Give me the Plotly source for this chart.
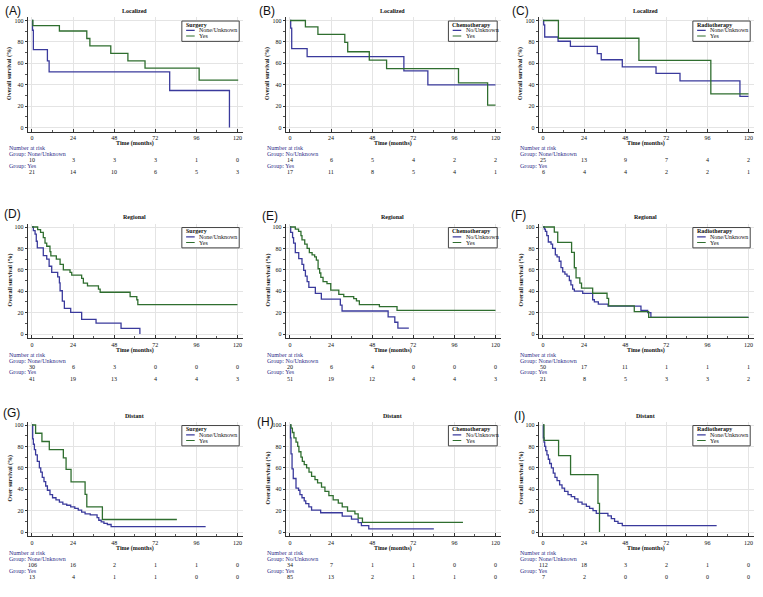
import plotly.graph_objects as go

# ---------------- data ----------------
months = [0, 24, 48, 72, 96, 120]

# (A) Localized - Surgery
a_none_t = [0, 0.3, 0.8, 9, 10, 80.4, 115.3]
a_none_s = [100, 90.9, 72.7, 62.3, 51.9, 34.6, 0]
a_yes_t = [0, 0.5, 16, 32, 33.8, 46, 56, 66, 97.6, 120.4]
a_yes_s = [100, 95.2, 90.2, 83.2, 76.2, 69.2, 62.3, 55.4, 44.3, 44.3]
a_risk_none = [10, 3, 3, 3, 1, 0]
a_risk_yes = [21, 14, 10, 6, 5, 3]

# (B) Localized - Chemotherapy
b_none_t = [0, 0.4, 1, 10, 66.5, 80.5, 120]
b_none_s = [100, 92.9, 73.7, 66.3, 53, 39.8, 39.8]
b_yes_t = [0, 9, 16.3, 32, 33.7, 46.3, 56.4, 98.4, 115.4, 120]
b_yes_s = [100, 94.1, 87.1, 79.6, 70.8, 63, 55.1, 41.7, 21, 21]
b_risk_none = [14, 6, 5, 4, 2, 2]
b_risk_yes = [17, 11, 8, 5, 4, 1]

# (C) Localized - Radiotherapy
c_none_t = [0, 0.4, 1, 8.8, 16, 31.7, 34, 46.3, 66, 80, 115, 120]
c_none_s = [100, 96, 84.6, 80.6, 75.9, 69, 63.3, 56.7, 50.5, 43.6, 29, 29]
c_yes_t = [0, 9, 56, 98, 120]
c_yes_s = [100, 83.4, 62.7, 31.5, 31.5]
c_risk_none = [25, 13, 9, 7, 4, 2]
c_risk_yes = [6, 4, 4, 2, 2, 1]

# (D) Regional - Surgery
d_none_t = [0, 0.8, 1.8, 2.5, 3.1, 6.6, 8.6, 10, 11.5, 15, 16, 16.4, 17.7,
            18.9, 22.6, 29, 37.4, 52, 63]
d_none_s = [100, 96.7, 93.3, 86.7, 80.4, 73.3, 70, 63.3, 57.5, 53.4, 47.8,
            40.4, 30.7, 23.9, 20.2, 13.7, 10.2, 5.3, 0]
d_yes_t = [0, 3.3, 5, 6.6, 7.6, 8.6, 10.5, 11, 14.2, 16.4, 18.3, 22.2, 23.2,
           29, 30, 32.4, 38.8, 39.8, 57.3, 61.2, 61.8, 120]
d_yes_s = [100, 97.5, 95, 90, 85, 82, 77, 73, 70, 65, 60, 57.5, 55, 52, 47.5,
           45, 42, 39, 35, 32, 27.5, 27.5]
d_risk_none = [30, 6, 3, 0, 0, 0]
d_risk_yes = [41, 19, 13, 4, 4, 3]

# (E) Regional - Chemotherapy
e_none_t = [0, 0.4, 1.5, 2.1, 3.1, 5.1, 7, 8, 9, 10, 11, 14.8, 18.3, 29.4,
            30.4, 57.3, 61.2, 63, 69.4]
e_none_s = [100, 95, 90, 85, 76, 70.5, 65, 59.5, 54, 49, 43.5, 38, 32.5, 27,
            21.5, 16, 11, 5.4, 5.4]
e_yes_t = [0, 3.1, 5, 6.4, 7, 8.6, 10, 11.3, 12.9, 14.4, 15.4, 16.4, 17.3, 18,
           19.3, 21.6, 23.8, 28.5, 31.4, 37.2, 38.8, 40.5, 52.2, 62.5, 120]
e_yes_s = [100, 98, 96, 92, 88, 84, 80, 76, 74, 72, 69, 61, 57, 53, 49, 47, 41,
           37, 35, 33, 31, 27.5, 25.5, 22, 22]
e_risk_none = [20, 6, 4, 0, 0, 0]
e_risk_yes = [51, 19, 12, 4, 4, 3]

# (F) Regional - Radiotherapy
f_none_t = [0, 0.8, 1.4, 2.2, 3.1, 4.7, 5.6, 7.2, 8.2, 9.5, 10.5, 11.5, 12.8,
            14, 15.4, 16.3, 17.3, 18.3, 23.2, 29, 30, 32.3, 38, 57.2, 61.1, 63,
            120]
f_none_s = [100, 98, 96, 92, 86, 84, 80, 74, 72, 68, 62, 58, 56, 54, 50, 46, 42,
            40, 38, 32, 30, 28, 26, 22, 20, 15.5, 15.5]
f_yes_t = [0, 6.6, 8.6, 16.7, 18.3, 19.3, 21.5, 22.5, 29, 37.4, 38.3, 53.3,
           61.7, 120]
f_yes_s = [100, 95.2, 85.7, 76.2, 61.9, 52.4, 47.6, 42.9, 38.1, 33.3, 26.2, 21,
           15.5, 15.5]
f_risk_none = [50, 17, 11, 1, 1, 1]
f_risk_yes = [21, 8, 5, 3, 3, 2]

# (G) Distant - Surgery
g_none_t = [0, 0.4, 0.8, 1.4, 2.1, 3.1, 4.3, 5.1, 6, 7, 8, 9, 10.5, 12, 14, 16,
            18, 20.3, 22.6, 25, 27, 29, 31, 34, 38, 39, 40.4, 42, 44, 46.2,
            101.4]
g_none_s = [100, 87, 82, 77, 72, 66, 60, 56, 51, 47, 43, 39, 35, 32, 30, 28, 26,
            25, 23.5, 22, 20.5, 18.5, 17, 16, 13.5, 11, 9.5, 8, 7, 5, 5]
g_yes_t = [0, 2.1, 5.8, 10.1, 18.3, 19.9, 22.8, 31, 32, 41.1, 84.6]
g_yes_s = [100, 92.3, 84.6, 76.9, 69.2, 58.6, 46.9, 35.2, 23.4, 11.7, 11.7]
g_risk_none = [106, 16, 2, 1, 1, 0]
g_risk_yes = [13, 4, 1, 1, 0, 0]

# (H) Distant - Chemotherapy
h_none_t = [0, 0.3, 0.6, 1.2, 1.9, 3.5, 5, 5.8, 7, 8.3, 9.2, 11, 12.6, 17.9,
            30.5, 35.9, 39.8, 41.7, 46, 84]
h_none_s = [100, 88, 73, 59, 50, 41, 39, 35, 32, 29, 26.5, 23.5, 20.5, 18, 14.8,
            12, 8.8, 6, 3, 3]
h_yes_t = [0, 0.6, 1.4, 2.3, 3.5, 4.5, 5.2, 6.4, 7.2, 8.3, 9.7, 11.1, 12.6,
           14.6, 16.1, 18.4, 20.4, 22.7, 25.2, 28.2, 30.5, 33.6, 37.9, 39.8,
           42.3, 101]
h_yes_s = [100, 97, 93, 88, 84, 80, 75, 70, 66, 63, 60, 56, 52, 49, 46, 42, 38,
           34, 30, 27, 23.5, 19.5, 17, 13, 9, 9]
h_risk_none = [34, 7, 1, 1, 0, 0]
h_risk_yes = [85, 13, 2, 1, 1, 0]

# (I) Distant - Radiotherapy
i_none_t = [0, 0.2, 0.6, 1, 1.6, 2.3, 3.1, 3.9, 4.9, 6, 7, 8.2, 9.7, 11.1,
            12.6, 14.6, 16.5, 18.5, 20.4, 22.8, 25.3, 27.2, 29.2, 31.1, 37.9,
            39.9, 41.8, 43.8, 46.3, 101.4]
i_none_s = [100, 88, 84, 80, 76, 72, 68, 64, 60, 55, 51, 48, 44, 41, 38, 35, 33,
            31, 28, 26, 24, 22, 20, 17.5, 15, 12.5, 10, 8, 6, 6]
i_yes_t = [0, 0.6, 9.1, 16.1, 32.1, 33]
i_yes_s = [100, 85.7, 71.4, 53.6, 26.8, 0]
i_risk_none = [112, 18, 3, 2, 1, 0]
i_risk_yes = [7, 2, 0, 0, 0, 0]

panel_labels = ["(A)", "(B)", "(C)", "(D)", "(E)", "(F)", "(G)", "(H)", "(I)"]
stage_titles = ["Localized"] * 3 + ["Regional"] * 3 + ["Distant"] * 3
treatments = ["Surgery", "Chemotherapy", "Radiotherapy"] * 3
none_names = ["None/Unknown", "No/Unknown", "None/Unknown"] * 3
y_titles = ["Overall survival (%)"] * 6 + ["Over survival (%)"] + ["Overall survival (%)"] * 2

curves = [
    (a_none_t, a_none_s, a_yes_t, a_yes_s, a_risk_none, a_risk_yes),
    (b_none_t, b_none_s, b_yes_t, b_yes_s, b_risk_none, b_risk_yes),
    (c_none_t, c_none_s, c_yes_t, c_yes_s, c_risk_none, c_risk_yes),
    (d_none_t, d_none_s, d_yes_t, d_yes_s, d_risk_none, d_risk_yes),
    (e_none_t, e_none_s, e_yes_t, e_yes_s, e_risk_none, e_risk_yes),
    (f_none_t, f_none_s, f_yes_t, f_yes_s, f_risk_none, f_risk_yes),
    (g_none_t, g_none_s, g_yes_t, g_yes_s, g_risk_none, g_risk_yes),
    (h_none_t, h_none_s, h_yes_t, h_yes_s, h_risk_none, h_risk_yes),
    (i_none_t, i_none_s, i_yes_t, i_yes_s, i_risk_none, i_risk_yes),
]

# ---------------- geometry / style ----------------
W, H = 763, 597
COL_X0 = [32, 290, 543]          # pixel of month 0
ROW_Y100 = [20.5, 227, 425]      # pixel of 100 %
PX_X = 205.5 / 120.0
PX_Y = 1.07
XR = [-2.5, 123]
YR = [-4, 103]
label_pos = [(3, 10.5), (257, 10.5), (510, 10.5), (2, 213.5), (260, 216), (509, 215),
             (1, 412.5), (255, 422), (512, 416)]

SERIF = "Liberation Serif"
BLUE = "#3a3a9c"
GREEN = "#2f6e2f"
NAVY = "#2e2e88"


def px(x):
    return x / W


def py(y):
    return 1 - y / H


def text_px(txt, x, y, size=6, color="#111", xanchor="center", angle=0, family=SERIF):
    # annotation placed by pixel position (paper coords)
    return dict(text=txt, xref="paper", yref="paper", x=px(x), y=py(y),
                xanchor=xanchor, yanchor="middle", showarrow=False,
                textangle=angle, font=dict(family=family, size=size, color=color))


fig = go.Figure()
layout = {}
annotations = []
shapes = []

for k in range(9):
    r, c = divmod(k, 3)
    n = k + 1
    xa = "x" if n == 1 else f"x{n}"
    ya = "y" if n == 1 else f"y{n}"
    x0 = COL_X0[c]
    y100 = ROW_Y100[r]
    y0 = y100 + 100 * PX_Y
    none_t, none_s, yes_t, yes_s, risk_none, risk_yes = curves[k]

    def X(t):
        return x0 + t * PX_X

    def Y(s):
        return y0 - s * PX_Y

    dom_x = [px(X(XR[0])), px(X(XR[1]))]
    dom_y = [py(Y(YR[0])), py(Y(YR[1]))]

    layout["xaxis" if n == 1 else f"xaxis{n}"] = dict(
        domain=dom_x, anchor=ya, range=XR, tickvals=months,
        showline=True, linecolor="#333", linewidth=1.2,
        showgrid=True, gridcolor="#e4e4e4", gridwidth=0.8, zeroline=False,
        ticks="inside", ticklen=3, tickcolor="#333",
        minor=dict(dtick=12, tick0=0, ticks="inside", ticklen=2, tickcolor="#555", showgrid=False),
        tickfont=dict(family=SERIF, size=6, color="#111"),
    )
    layout["yaxis" if n == 1 else f"yaxis{n}"] = dict(
        domain=dom_y, anchor=xa, range=YR, tickvals=[0, 20, 40, 60, 80, 100],
        showline=True, linecolor="#333", linewidth=1.2,
        showgrid=True, gridcolor="#e4e4e4", gridwidth=0.8, zeroline=False,
        ticks="outside", ticklen=2, tickcolor="#333",
        minor=dict(dtick=10, tick0=0, ticks="outside", ticklen=1.5, tickcolor="#555", showgrid=False),
        tickfont=dict(family=SERIF, size=6, color="#111"),
    )

    fig.add_trace(go.Scatter(x=none_t, y=none_s, mode="lines", line_shape="hv",
                             line=dict(color=BLUE, width=1.3), xaxis=xa, yaxis=ya,
                             showlegend=False, name=none_names[k]))
    fig.add_trace(go.Scatter(x=yes_t, y=yes_s, mode="lines", line_shape="hv",
                             line=dict(color=GREEN, width=1.3), xaxis=xa, yaxis=ya,
                             showlegend=False, name="Yes"))

    # panel label and titles
    lx, ly = label_pos[k]
    annotations.append(text_px(panel_labels[k], lx, ly, size=12, xanchor="left",
                               family="Liberation Sans"))
    annotations.append(text_px("<b>%s</b>" % stage_titles[k], X(60), y100 - 9.5))
    annotations.append(text_px("<b>Time (months)</b>", X(60), y0 + 16.5))
    annotations.append(text_px("<b>%s</b>" % y_titles[k], x0 - 22, Y(50), angle=-90))

    # number at risk table
    left = x0 - 25
    annotations.append(text_px("Number at risk", left, y0 + 20.5, color=NAVY, xanchor="left"))
    annotations.append(text_px("Group: " + none_names[k], left, y0 + 26.5, color=NAVY, xanchor="left"))
    annotations.append(text_px("Group: Yes", left, y0 + 38.5, color=NAVY, xanchor="left"))
    for vals, off in [(risk_none, 32.5), (risk_yes, 44.5)]:
        for m, v in zip(months, vals):
            annotations.append(text_px(str(v), X(m), y0 + off))

    # legend box
    lleft = 92.5 if treatments[k] == "Chemotherapy" else 87.5
    lright, ltop, lbot = 121, 99.5, 80.5
    shapes.append(dict(type="rect", xref=xa, yref=ya, x0=lleft, x1=lright,
                       y0=lbot, y1=ltop, line=dict(color="#444", width=1),
                       fillcolor="white", layer="above"))
    annotations.append(text_px("<b>%s</b>" % treatments[k], X(lleft + 1.2), Y(96),
                               xanchor="left"))
    for name, col, yy in [(none_names[k], BLUE, 90.8), ("Yes", GREEN, 85.5)]:
        shapes.append(dict(type="line", xref=xa, yref=ya, x0=lleft + 2.5,
                           x1=lleft + 7.5, y0=yy, y1=yy,
                           line=dict(color=col, width=1.2), layer="above"))
        annotations.append(text_px(name, X(lleft + 9), Y(yy), xanchor="left"))

fig.update_layout(
    width=W, height=H, margin=dict(l=0, r=0, t=0, b=0),
    paper_bgcolor="white", plot_bgcolor="white",
    showlegend=False, annotations=annotations, shapes=shapes,
    **layout
)

fig.write_html("out.html", config={"displayModeBar": False},
               post_script="document.body.style.margin='0';document.body.style.overflow='hidden';")
